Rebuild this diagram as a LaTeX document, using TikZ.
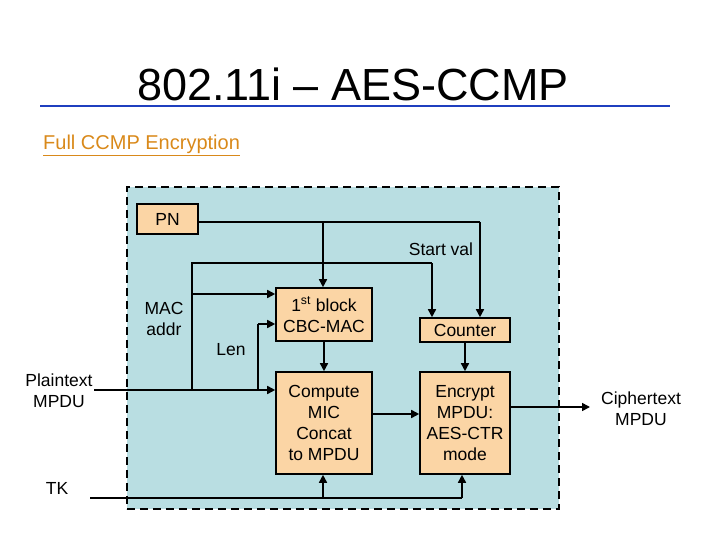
\documentclass[tikz,border=0pt]{standalone}
\usepackage{fontspec}
\setmainfont{Liberation Sans}
\usetikzlibrary{arrows.meta}
\definecolor{bgc}{HTML}{B9DEE2}
\definecolor{boxc}{HTML}{FBD5A5}
\definecolor{ttl}{HTML}{1F3FBF}
\definecolor{org}{HTML}{D9891A}
\begin{document}
\begin{tikzpicture}[x=1pt,y=-1pt,
  box/.style={draw,line width=1.6pt,fill=boxc,inner sep=0pt,align=center,font=\fontsize{17.5}{21}\selectfont},
  lbl/.style={font=\fontsize{17.5}{21}\selectfont,align=center,inner sep=1pt},
  ar/.style={line width=1.6pt,-{Triangle[length=8pt,width=8pt]}},
  ln/.style={line width=1.6pt}]
\useasboundingbox (0,0) rectangle (720,540);
\node[font=\fontsize{45}{50}\selectfont] (title) at (353,84) {802.11i – AES-CCMP};
\draw[ttl,line width=2.5pt] (40,106) -- (670,106);
\node[anchor=west,text=org,font=\fontsize{20}{24}\selectfont,inner sep=0pt] (sub) at (43,145) {\underline{Full CCMP Encryption}};
\node[draw,line width=1.6pt,dash pattern=on 8pt off 5pt,fill=bgc,minimum width=432pt,minimum height=322pt,anchor=north west,inner sep=0pt] (cont) at (126,186) {};
\node[box,minimum width=61pt,minimum height=30pt] (pn) at (167.5,219) {PN};
\node[box,minimum width=96pt,minimum height=53pt] (cbc) at (324,314.5) {1\textsuperscript{st} block\\CBC-MAC};
\node[box,minimum width=90pt,minimum height=24pt] (ctr) at (465,330) {Counter};
\node[box,minimum width=96pt,minimum height=102pt] (cmp) at (324,423) {Compute\\MIC\\Concat\\to MPDU};
\node[box,minimum width=90pt,minimum height=102pt] (enc) at (465,423) {Encrypt\\MPDU:\\AES-CTR\\mode};
\node[lbl] (sv) at (441,249) {Start val};
\node[lbl] (mac) at (164,319) {MAC\\addr};
\node[lbl] (len) at (231,350) {Len};
\node[lbl] (pt) at (59,391) {Plaintext\\MPDU};
\node[lbl] (tk) at (57,488) {TK};
\node[lbl] (ct) at (641,409) {Ciphertext\\MPDU};
\coordinate (ptin) at (94,390);
\coordinate (tkin) at (90,498);
\coordinate (ctout) at (590,407);
\coordinate (j1) at (192,390);
\coordinate (j2) at (258,390);
\coordinate (j3) at (192,263);
\draw[ln] (pn.east |- 0,222) -- (480,222);
\draw[ar] (480,222) -- (ctr.north -| 480,0);
\draw[ar] (323,222) -- (cbc.north -| 323,0);
\draw[ar] (ptin) -- (cmp.west |- ptin);
\draw[ln] (j1) -- (j3) -- (432,263);
\draw[ar] (432,263) -- (ctr.north -| 432,0);
\draw[ar] (192,294) -- (cbc.west |- 0,294);
\draw[ln] (j2) -- (258,324);
\draw[ar] (258,324) -- (cbc.west |- 0,324);
\draw[ar] (cbc) -- (cmp);
\draw[ar] (ctr) -- (enc);
\draw[ar] (cmp.east |- 0,414) -- (enc.west |- 0,414);
\draw[ar] (enc.east |- ctout) -- (ctout);
\draw[ln] (tkin) -- (462,498);
\draw[ar] (323,498) -- (cmp.south -| 323,0);
\draw[ar] (462,498) -- (enc.south -| 462,0);
\end{tikzpicture}
\end{document}
